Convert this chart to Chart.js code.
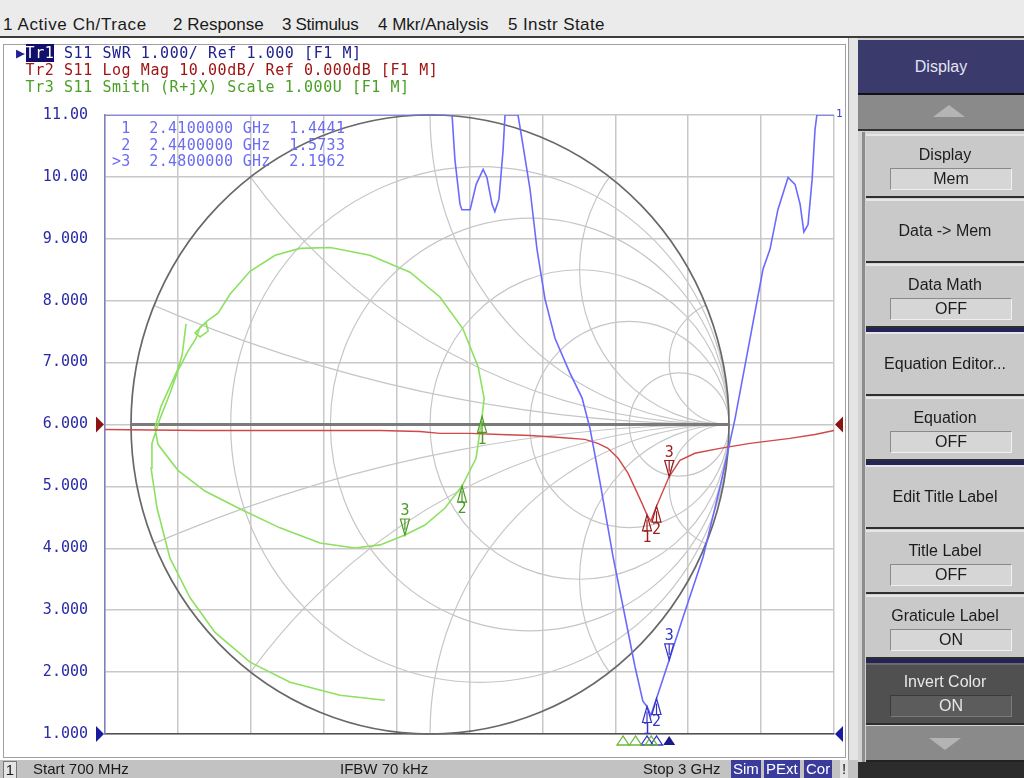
<!DOCTYPE html>
<html>
<head>
<meta charset="utf-8">
<script src="https://cdn.jsdelivr.net/npm/chart.js@4.4.0/dist/chart.umd.min.js"></script>
<style>
  body { margin: 0; width: 1024px; height: 778px; overflow: hidden; position: relative;
         background: #bcbcbc; font-family: "Liberation Sans", Arial, sans-serif; }
  .abs { position: absolute; }
  #menu { left: 0; top: 0; width: 1024px; height: 36px; background: #ebebeb; border-bottom: 2px solid #3c3c3c; }
  #menu span { position: absolute; top: 15px; font-size: 17px; color: #1a1a1a; white-space: nowrap; }
  #win { left: 0; top: 38px; width: 848px; height: 722px; background: #fff; }
  #frame { left: 3px; top: 44px; width: 843px; height: 714px; border: 1px solid #a0a0a0; box-sizing: border-box; pointer-events: none; }
  #strip { left: 848px; top: 38px; width: 10px; height: 724px; background: #e4e4e4; border-left: 1px solid #9a9a9a; box-sizing: border-box; }
  .mono { font-family: "DejaVu Sans Mono", monospace; font-size: 15px; letter-spacing: 0.57px; white-space: pre; line-height: 17px; }
  #hdr { left: 16px; top: 45px; }
  .tr1 { color: #202090; } .tr2 { color: #a01414; } .tr3 { color: #4aa024; }
  .hl { background: #10106a; color: #fff; }
  #mk { left: 112px; top: 120px; color: #6c6cf0; font-size: 15px; letter-spacing: 0.3px; line-height: 16.5px; }
  #panel { left: 858px; top: 38px; width: 166px; height: 740px; background: #d2d2d2; }
  #pline { left: 862px; top: 132px; width: 3px; height: 630px; background: #8c8c8c; }
  .btn { position: absolute; left: 866px; width: 158px; background: #c9c9c9; border-top: 2px solid #e6e6e6;
         border-bottom: 2px solid #2e2e2e; box-sizing: border-box; text-align: center; font-size: 16px; color: #1c1c1c; }
  .btn .fld { position: absolute; left: 24px; width: 122px; height: 22px; background: #d6d6d6;
              border: 1px solid #8a8a8a; border-right-color: #f0f0f0; border-bottom-color: #f0f0f0; box-sizing: border-box; line-height: 20px; }
  .sep { position: absolute; left: 866px; width: 158px; height: 4px; background: #23235a; }
  #status { left: 0; top: 760px; width: 858px; height: 18px; background: #c2c2c2; font-size: 15px; color: #1a1a1a; }
  #status span { position: absolute; top: 0; white-space: nowrap; line-height: 18px; }
  .bx { background: #3b3b9c; color: #fff; padding: 0 2px; }
</style>
</head>
<body>
<div id="menu" class="abs">
  <span style="left:3px;letter-spacing:0.6px">1 Active Ch/Trace</span>
  <span style="left:173px">2 Response</span>
  <span style="left:282px;letter-spacing:-0.3px">3 Stimulus</span>
  <span style="left:378px">4 Mkr/Analysis</span>
  <span style="left:508px;letter-spacing:0.4px">5 Instr State</span>
</div>

<div id="win" class="abs"><canvas id="chartCanvas" width="848" height="722"></canvas></div>
<div id="frame" class="abs"></div>
<div id="strip" class="abs"></div>

<div id="hdr" class="abs mono"><span class="tr1">&#9654;</span><span class="hl">Tr1</span><span class="tr1"> S11 SWR 1.000/ Ref 1.000 [F1 M]</span>
<span class="tr2"> Tr2 S11 Log Mag 10.00dB/ Ref 0.000dB [F1 M]</span>
<span class="tr3"> Tr3 S11 Smith (R+jX) Scale 1.000U [F1 M]</span></div>

<div id="mk" class="abs mono"> 1  2.4100000 GHz  1.4441
 2  2.4400000 GHz  1.5733
&gt;3  2.4800000 GHz  2.1962</div>

<div id="panel" class="abs"></div>
<div id="pline" class="abs"></div>
<div class="abs" style="left:858px;top:40px;width:166px;height:53px;background:#3a3a6c;color:#e4e4f4;font-size:16px;text-align:center;line-height:53px;border-bottom:2px solid #111">Display</div>
<div class="abs" style="left:858px;top:95px;width:166px;height:36px;background:#8a8a8a;border-bottom:2px solid #333;box-sizing:border-box">
  <div class="abs" style="left:75px;top:10px;width:0;height:0;border-left:16px solid transparent;border-right:16px solid transparent;border-bottom:12px solid #b4b4b4"></div>
</div>

<div class="btn" style="top:134px;height:64px"><div style="margin-top:10px">Display</div><div class="fld" style="top:32px">Mem</div></div>
<div class="btn" style="top:199px;height:64px;line-height:60px">Data -&gt; Mem</div>
<div class="btn" style="top:264px;height:64px"><div style="margin-top:10px">Data Math</div><div class="fld" style="top:32px">OFF</div></div>
<div class="sep" style="top:328px"></div>
<div class="btn" style="top:332px;height:64px;line-height:60px">Equation Editor...</div>
<div class="btn" style="top:397px;height:64px"><div style="margin-top:10px">Equation</div><div class="fld" style="top:32px">OFF</div></div>
<div class="sep" style="top:461px"></div>
<div class="btn" style="top:465px;height:64px;line-height:60px">Edit Title Label</div>
<div class="btn" style="top:530px;height:64px"><div style="margin-top:10px">Title Label</div><div class="fld" style="top:32px">OFF</div></div>
<div class="btn" style="top:595px;height:64px"><div style="margin-top:10px">Graticule Label</div><div class="fld" style="top:32px">ON</div></div>
<div class="sep" style="top:659px"></div>
<div class="btn" style="top:663px;height:62px;background:#505050;color:#e8e8e8;border-top-color:#6a6a6a"><div style="margin-top:8px">Invert Color</div><div class="fld" style="top:30px;background:#5c5c5c;border-color:#3a3a3a;border-right-color:#7a7a7a;border-bottom-color:#7a7a7a">ON</div></div>
<div class="abs" style="left:866px;top:726px;width:158px;height:36px;background:#8a8a8a;border-bottom:2px solid #222;box-sizing:border-box">
  <div class="abs" style="left:63px;top:12px;width:0;height:0;border-left:16px solid transparent;border-right:16px solid transparent;border-top:12px solid #b4b4b4"></div>
</div>
<div class="abs" style="left:858px;top:762px;width:166px;height:16px;background:#2c2c2c"></div>

<div id="status" class="abs">
  <span style="left:3px;top:1px;width:12px;height:16px;background:#e4e4e4;border:1px solid #777;text-align:center;line-height:16px">1</span>
  <span style="left:33px">Start 700 MHz</span>
  <span style="left:340px">IFBW 70 kHz</span>
  <span style="left:643px">Stop 3 GHz</span>
  <span class="bx" style="left:731px">Sim</span>
  <span class="bx" style="left:764px">PExt</span>
  <span class="bx" style="left:804px">Cor</span>
  <span style="left:840px;width:8px;background:#e4e4e4;text-align:center">!</span>
</div>

<script>
// --- stimulus / graticule ---
const startGHz = 0.7;
const stopGHz = 3.0;
const freqTicks = [0.7, 0.93, 1.16, 1.39, 1.62, 1.85, 2.08, 2.31, 2.54, 2.77, 3.0];
const swrTicks = [1, 2, 3, 4, 5, 6, 7, 8, 9, 10, 11];

// --- Tr1: SWR (values above 11 are pinned to the top line like the analyzer does) ---
const swrFreq = [0.700, 1.795, 1.804, 1.820, 1.826, 1.852, 1.871, 1.893, 1.905, 1.921, 1.930, 1.943, 1.956, 1.962,
  2.003, 2.016, 2.041, 2.063, 2.088, 2.120, 2.167, 2.205, 2.230, 2.262, 2.303, 2.341, 2.372, 2.397, 2.410,
  2.422, 2.440, 2.480, 2.524, 2.587, 2.640, 2.688, 2.741, 2.776, 2.798, 2.823, 2.855, 2.877, 2.893, 2.905,
  2.918, 2.931, 2.940, 2.946, 3.000];
const swrVal = [11, 11, 10.28, 9.56, 9.47, 9.47, 9.88, 10.12, 9.99, 9.56, 9.44, 9.64, 10.44, 11,
  11, 10.60, 9.80, 8.83, 8.03, 7.39, 6.83, 6.43, 5.94, 5.06, 3.86, 2.89, 2.09, 1.53, 1.4441,
  1.30, 1.5733, 2.1962, 2.89, 3.86, 4.98, 6.10, 7.55, 8.51, 8.83, 9.47, 9.99, 9.88, 9.56, 9.11,
  9.23, 9.96, 10.76, 11, 11];

// --- Tr2: Log Mag (dB) ---
const dbFreq = [0.700, 1.000, 1.315, 1.568, 1.694, 1.757, 1.852, 1.946, 2.041, 2.136, 2.214, 2.255, 2.287,
  2.319, 2.350, 2.375, 2.394, 2.410, 2.422, 2.440, 2.480, 2.514, 2.561, 2.640, 2.735, 2.861, 2.940, 3.000];
const dbVal = [-0.8, -0.96, -0.96, -0.96, -1.12, -1.44, -1.44, -1.61, -1.77, -2.09, -2.41, -3.05, -3.85,
  -5.46, -7.87, -10.6, -12.7, -14.6, -15.6, -13.2, -8.4, -5.8, -4.65, -3.85, -3.05, -2.25, -1.61, -0.96];

// --- Tr3: Smith (reflection coefficient, real / imag), start at low frequency ---
const smithRe = [-0.151, -0.301, -0.468, -0.602, -0.719, -0.803, -0.870, -0.913, -0.933, -0.930, -0.903, -0.870,
  -0.843, -0.809, -0.783, -0.769, -0.749, -0.742, -0.769, -0.786, -0.746, -0.709, -0.669, -0.602, -0.518,
  -0.435, -0.334, -0.201, -0.067, 0.033, 0.110, 0.161, 0.181, 0.174, 0.154, 0.107, 0.050, -0.017, -0.084,
  -0.167, -0.251, -0.368, -0.502, -0.635, -0.753, -0.843, -0.910, -0.920, -0.900, -0.870, -0.843, -0.829,
  -0.823, -0.816];
const smithIm = [-0.891, -0.875, -0.833, -0.768, -0.672, -0.559, -0.431, -0.270, -0.141, -0.061, 0.019, 0.100,
  0.174, 0.238, 0.277, 0.315, 0.328, 0.302, 0.283, 0.296, 0.334, 0.360, 0.421, 0.495, 0.547,
  0.569, 0.572, 0.547, 0.492, 0.412, 0.309, 0.186, 0.084, 0.026, -0.109, -0.199, -0.270, -0.325, -0.357,
  -0.389, -0.399, -0.383, -0.334, -0.273, -0.215, -0.148, -0.064, -0.010, 0.058, 0.122, 0.180, 0.225,
  0.270, 0.325];

// --- markers ---
const markerFreq = [2.41, 2.44, 2.48];
const markerSwr = [1.4441, 1.5733, 2.1962];
const markerDb = [-14.6, -13.2, -8.4];
const markerRe = [0.174, 0.107, -0.084];
const markerIm = [0.026, -0.199, -0.357];
const activeMarker = 2;

// --- Smith graticule ---
const smithR = [0.2, 0.5, 1, 2, 5];
const smithX = [0.2, 0.5, 1, 2, 5];

const blue = "#6a6aff", red = "#d04848", green = "#8ee060";

const smithGrid = {
  id: "smithGrid",
  beforeDatasetsDraw(chart) {
    const ctx = chart.ctx;
    const sx = chart.scales.xG, sy = chart.scales.yG;
    const cx = sx.getPixelForValue(0), cy = sy.getPixelForValue(0);
    const kx = sx.getPixelForValue(1) - cx, ky = cy - sy.getPixelForValue(1);
    ctx.save();
    ctx.beginPath();
    ctx.ellipse(cx, cy, kx, ky, 0, 0, Math.PI * 2);
    ctx.clip();
    ctx.strokeStyle = "#c6c6c6";
    ctx.lineWidth = 1.2;
    smithR.forEach(r => {
      const c = r / (r + 1), rad = 1 / (r + 1);
      ctx.beginPath();
      ctx.ellipse(cx + c * kx, cy, rad * kx, rad * ky, 0, 0, Math.PI * 2);
      ctx.stroke();
    });
    smithX.forEach(x => {
      [1, -1].forEach(s => {
        ctx.beginPath();
        ctx.ellipse(cx + kx, cy - s * ky / x, kx / x, ky / x, 0, 0, Math.PI * 2);
        ctx.stroke();
      });
    });
    ctx.restore();
    ctx.save();
    ctx.strokeStyle = "#686868";
    ctx.lineWidth = 1.7;
    ctx.beginPath();
    ctx.ellipse(cx, cy, kx, ky, 0, 0, Math.PI * 2);
    ctx.stroke();
    ctx.strokeStyle = "#7a7a7a";
    ctx.lineWidth = 2.8;
    ctx.beginPath();
    ctx.moveTo(cx - kx, cy);
    ctx.lineTo(cx + kx, cy);
    ctx.stroke();
    ctx.restore();
  }
};

function drawMarker(ctx, x, y, label, color, down) {
  const w = 4.5, h = 16;
  ctx.strokeStyle = color;
  ctx.fillStyle = color;
  ctx.lineWidth = 1.2;
  ctx.beginPath();
  if (down) { ctx.moveTo(x, y); ctx.lineTo(x - w, y - h); ctx.lineTo(x + w, y - h); }
  else { ctx.moveTo(x, y); ctx.lineTo(x - w, y + h); ctx.lineTo(x + w, y + h); }
  ctx.closePath();
  ctx.stroke();
  ctx.beginPath();
  ctx.moveTo(x, down ? y - h : y + 5);
  ctx.lineTo(x, down ? y - 5 : y + h);
  ctx.stroke();
  ctx.font = "15px 'DejaVu Sans Mono'";
  ctx.textAlign = "center";
  ctx.textBaseline = down ? "bottom" : "top";
  ctx.fillText(label, x, down ? y - h : y + h);
}

function tri(ctx, x, y, dir, size, color, fill) {
  ctx.beginPath();
  if (dir === "right") { ctx.moveTo(x, y); ctx.lineTo(x - size, y - size); ctx.lineTo(x - size, y + size); }
  else if (dir === "left") { ctx.moveTo(x, y); ctx.lineTo(x + size, y - size); ctx.lineTo(x + size, y + size); }
  else { ctx.moveTo(x, y); ctx.lineTo(x - size, y + size * 1.5); ctx.lineTo(x + size, y + size * 1.5); }
  ctx.closePath();
  if (fill) { ctx.fillStyle = color; ctx.fill(); } else { ctx.strokeStyle = color; ctx.lineWidth = 1.3; ctx.stroke(); }
}

const markerLayer = {
  id: "markerLayer",
  afterDatasetsDraw(chart) {
    const ctx = chart.ctx;
    const { x, y, yDb, xG, yG } = chart.scales;
    const area = chart.chartArea;
    ctx.save();
    markerFreq.forEach((f, i) => {
      const down = i === activeMarker;
      const lbl = String(i + 1);
      drawMarker(ctx, xG.getPixelForValue(markerRe[i]), yG.getPixelForValue(markerIm[i]), lbl, "#4a9a24", down);
      drawMarker(ctx, x.getPixelForValue(f), yDb.getPixelForValue(markerDb[i]), lbl, "#9a1c1c", down);
      drawMarker(ctx, x.getPixelForValue(f), y.getPixelForValue(markerSwr[i]), lbl, "#3434c8", down);
    });
    // stimulus position markers under the graticule
    markerFreq.forEach((f, i) => {
      const px = x.getPixelForValue(f);
      tri(ctx, px - 24 + i * 3, area.bottom + 2, "up", 6, "#6ab83a", false);
      tri(ctx, px, area.bottom + 2, "up", 6, i === activeMarker ? "#1a1a8a" : "#3434c8", i === activeMarker);
    });
    // reference level arrows
    const ySwr = y.getPixelForValue(1), yRef = yDb.getPixelForValue(0);
    tri(ctx, area.left - 1, ySwr, "right", 8, "#1a1aa0", true);
    tri(ctx, area.right + 1, ySwr, "left", 8, "#1a1aa0", true);
    tri(ctx, area.left - 1, yRef, "right", 8, "#8a1414", true);
    tri(ctx, area.right + 1, yRef, "left", 8, "#8a1414", true);
    ctx.fillStyle = "#4040d0";
    ctx.font = "11px 'DejaVu Sans Mono'";
    ctx.textAlign = "left";
    ctx.textBaseline = "middle";
    ctx.fillText("1", area.right + 2, area.top - 1);
    ctx.restore();
  }
};

const toPoints = (xs, ys) => xs.map((v, i) => ({ x: v, y: ys[i] }));

new Chart(document.getElementById("chartCanvas"), {
  type: "scatter",
  data: {
    datasets: [
      { label: "Tr1 SWR", data: toPoints(swrFreq, swrVal), xAxisID: "x", yAxisID: "y",
        showLine: true, borderColor: blue, borderWidth: 1.6, pointRadius: 0 },
      { label: "Tr2 Log Mag", data: toPoints(dbFreq, dbVal), xAxisID: "x", yAxisID: "yDb",
        showLine: true, borderColor: red, borderWidth: 1.4, pointRadius: 0 },
      { label: "Tr3 Smith", data: toPoints(smithRe, smithIm), xAxisID: "xG", yAxisID: "yG",
        showLine: true, borderColor: green, borderWidth: 1.6, pointRadius: 0 }
    ]
  },
  options: {
    responsive: false,
    animation: false,
    devicePixelRatio: 1,
    layout: { padding: { left: 8, top: 77, right: 14, bottom: 22 } },
    plugins: { legend: { display: false }, tooltip: { enabled: false } },
    scales: {
      x: {
        type: "linear", min: startGHz, max: stopGHz,
        afterBuildTicks: s => { s.ticks = freqTicks.map(v => ({ value: v })); },
        afterFit: s => { s.height = 0; },
        ticks: { display: false },
        grid: { color: "#c8c8c8", lineWidth: 1.5, drawTicks: false },
        border: { color: "#505050", width: 1.5 }
      },
      y: {
        type: "linear", min: 1, max: 11,
        afterBuildTicks: s => { s.ticks = swrTicks.map(v => ({ value: v })); },
        afterFit: s => { s.width = 97; },
        ticks: {
          color: "#2a2aa8", padding: 17,
          font: { family: "DejaVu Sans Mono", size: 15 },
          callback: v => (v >= 10 ? v.toFixed(2) : v.toFixed(3))
        },
        grid: { color: "#c8c8c8", lineWidth: 1.5, drawTicks: false },
        border: { color: "#8080c0", width: 1.5 }
      },
      yDb: { type: "linear", min: -50, max: 50, display: false },
      xG: { type: "linear", min: -1.087, max: 1.351, display: false },
      yG: { type: "linear", min: -1, max: 1, display: false }
    }
  },
  plugins: [smithGrid, markerLayer]
});
</script>
</body>
</html>
